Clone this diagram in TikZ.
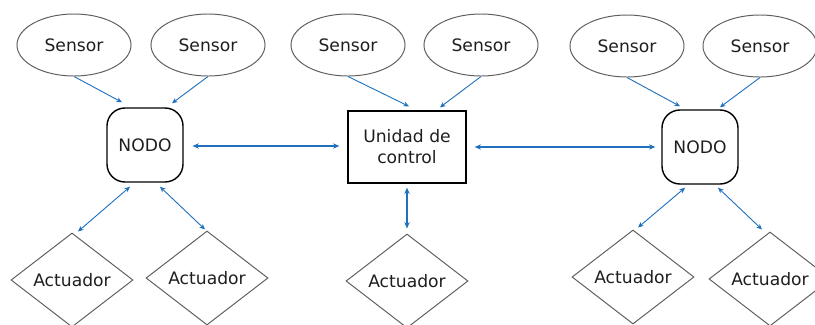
\documentclass[tikz,border=0pt]{standalone}
\usepackage{fontspec}
\setmainfont{DejaVu Sans}
\usetikzlibrary{shapes.geometric,arrows.meta,calc}
\definecolor{flecha}{RGB}{32,112,190}
\definecolor{borde}{RGB}{95,95,95}
\definecolor{texto}{RGB}{30,30,30}
\begin{document}
\begin{tikzpicture}[x=0.025cm,y=-0.025cm,
  font=\fontsize{12.2}{15}\selectfont,text=texto,
  sensor/.style={ellipse,draw=borde,line width=0.7pt,minimum width=2.85cm,minimum height=1.55cm,inner sep=0pt},
  nodo/.style={draw,line width=1pt,rounded corners=0.45cm,minimum width=1.9cm,minimum height=1.85cm,inner sep=0pt},
  control/.style={draw,line width=0.9pt,minimum width=2.95cm,minimum height=1.8cm,align=center,inner sep=0pt},
  actuador/.style={diamond,draw=borde,line width=0.7pt,aspect=1.3,minimum width=3.05cm,minimum height=2.35cm,inner sep=0pt},
  flujo/.style={draw=flecha,line width=0.65pt,-{Stealth[length=4pt,width=3.5pt]}},
  doble/.style={draw=flecha,line width=0.65pt,{Stealth[length=4pt,width=3.5pt]}-{Stealth[length=4pt,width=3.5pt]}},
  enlace/.style={draw=flecha,line width=0.95pt,{Stealth[length=4.5pt,width=3.8pt]}-{Stealth[length=4.5pt,width=3.8pt]}}]
\useasboundingbox (0,0) rectangle (815,324);
\node[sensor] (s1) at (74,45) {Sensor};
\node[sensor] (s2) at (208,45) {Sensor};
\node[sensor] (s3) at (348,45) {Sensor};
\node[sensor] (s4) at (481,45) {Sensor};
\node[sensor] (s5) at (627,46) {Sensor};
\node[sensor] (s6) at (760,46) {Sensor};
\node[nodo] (n1) at (145,145) {NODO};
\node[control] (u) at (407,147) {Unidad de\\control};
\node[nodo] (n2) at (700,147) {NODO};
\node[actuador] (a1) at (72,280) {Actuador};
\node[actuador] (a2) at (207,278) {Actuador};
\node[actuador] (a3) at (407,281) {Actuador};
\node[actuador] (a5) at (633,277) {Actuador};
\node[actuador] (a6) at (770,279) {Actuador};
\draw[flujo] (s1.south) -- ($(n1.north)+(-23,-5)$);
\draw[flujo] (s2.south) -- ($(n1.north)+(27,-4)$);
\draw[flujo] (s3.south) -- ($(u.north)+(2,-4)$);
\draw[flujo] (s4.south) -- ($(u.north)+(33,-3)$);
\draw[flujo] (s5.south) -- ($(n2.north)+(-20,-3)$);
\draw[flujo] (s6.south) -- ($(n2.north)+(20,-2)$);
\draw[doble] ($(n1.south)+(-15,4)$) -- ($(a1.north)+(6,-1)$);
\draw[doble] ($(n1.south)+(15,4)$) -- ($(a2.north)+(-2,-1)$);
\draw[enlace] ($(u.south)+(0,4)$) -- ($(a3.north)+(0,-5)$);
\draw[doble] ($(n2.south)+(-15,3)$) -- ($(a5.north)+(5,-2)$);
\draw[doble] ($(n2.south)+(18,3)$) -- ($(a6.north)+(-8,-2)$);
\draw[enlace,shorten <=0.22cm,shorten >=0.2cm] ($(n1.east)+(0,1)$) -- ($(u.west)+(0,-1)$);
\draw[enlace,shorten <=0.2cm,shorten >=0.15cm] (u.east) -- (n2.west);
\end{tikzpicture}
\end{document}
